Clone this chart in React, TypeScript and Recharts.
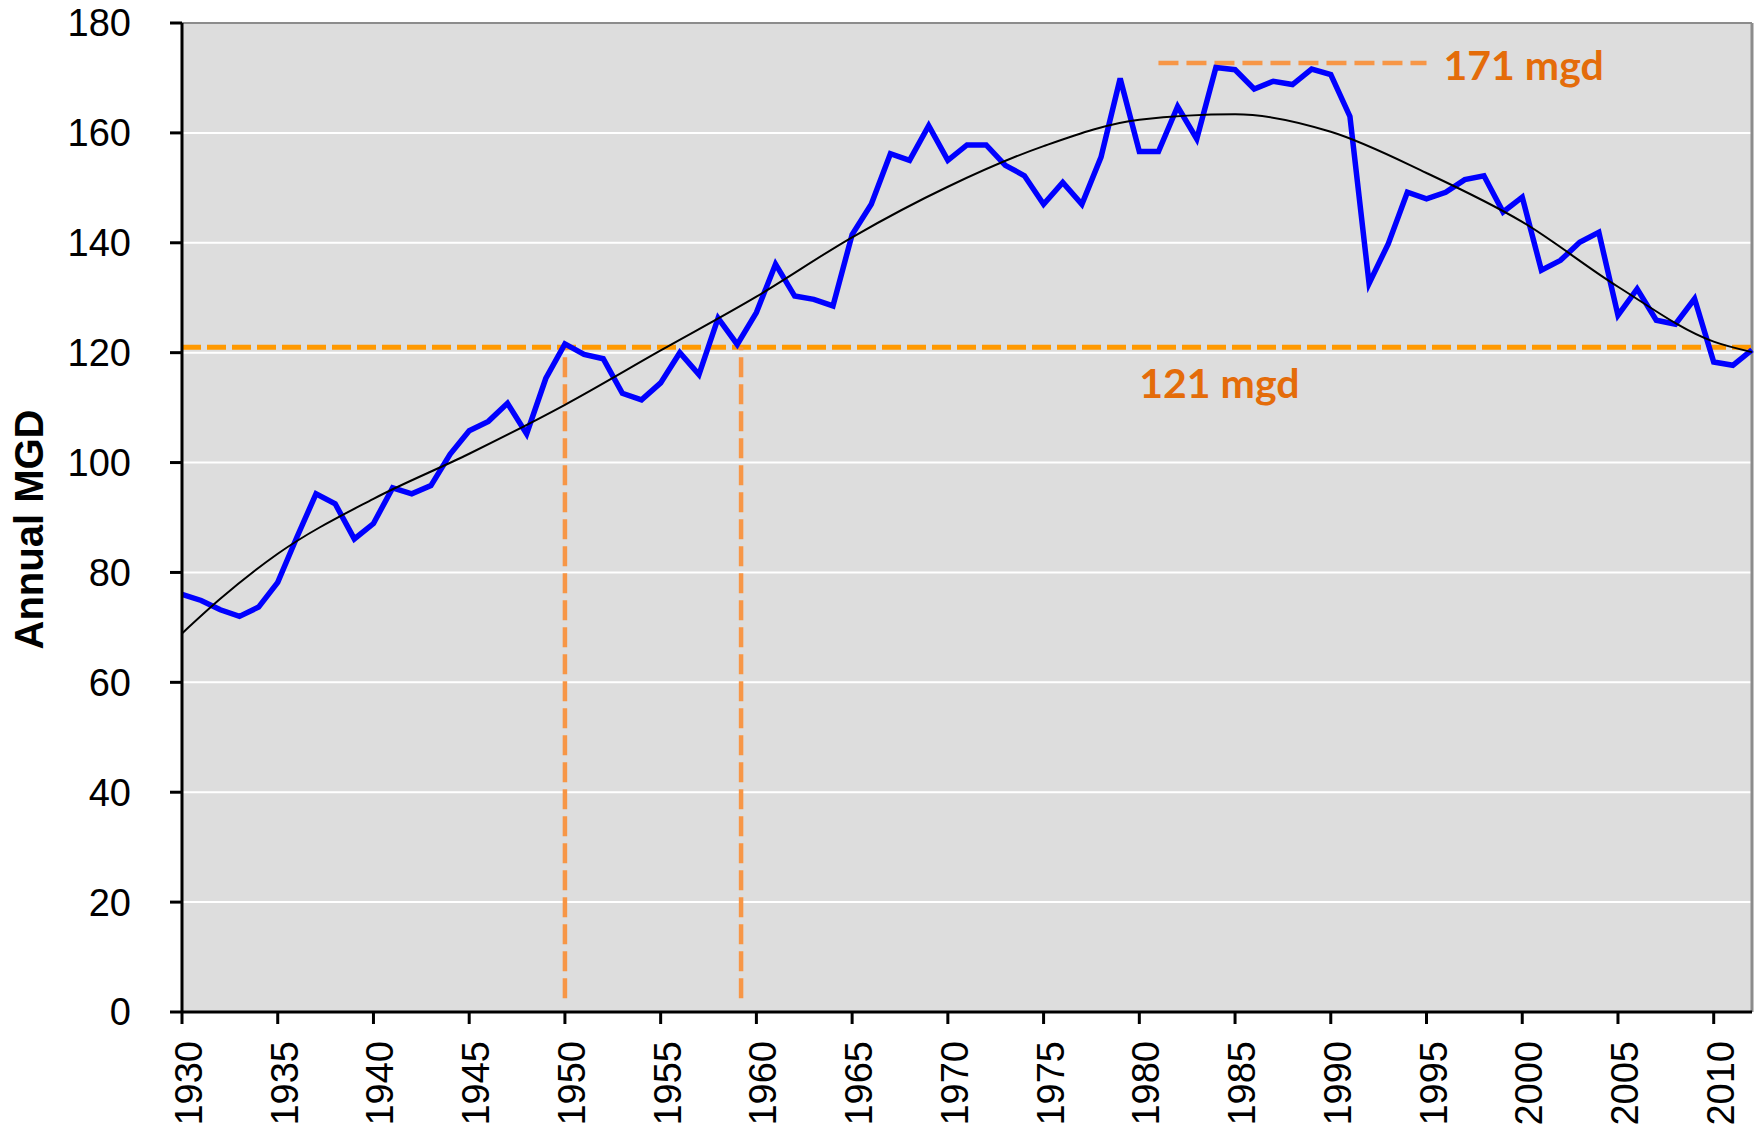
import {
  LineChart,
  Line,
  XAxis,
  YAxis,
  CartesianGrid,
  ReferenceLine,
  ReferenceDot,
} from "recharts";

// annual average demand, million gallons per day
const years = [
  1930, 1931, 1932, 1933, 1934, 1935, 1936, 1937, 1938, 1939,
  1940, 1941, 1942, 1943, 1944, 1945, 1946, 1947, 1948, 1949,
  1950, 1951, 1952, 1953, 1954, 1955, 1956, 1957, 1958, 1959,
  1960, 1961, 1962, 1963, 1964, 1965, 1966, 1967, 1968, 1969,
  1970, 1971, 1972, 1973, 1974, 1975, 1976, 1977, 1978, 1979,
  1980, 1981, 1982, 1983, 1984, 1985, 1986, 1987, 1988, 1989,
  1990, 1991, 1992, 1993, 1994, 1995, 1996, 1997, 1998, 1999,
  2000, 2001, 2002, 2003, 2004, 2005, 2006, 2007, 2008, 2009,
  2010, 2011, 2012,
];

const usage = [
  76.0, 74.9, 73.2, 72.0, 73.7, 78.2, 86.4, 94.3, 92.5, 86.1,
  88.9, 95.4, 94.3, 95.8, 101.5, 105.8, 107.5, 110.8, 105.2, 115.3,
  121.6, 119.7, 118.9, 112.6, 111.4, 114.5, 120.0, 116.0, 126.3, 121.5,
  127.3, 136.1, 130.3, 129.7, 128.5, 141.5, 147.0, 156.2, 155.0, 161.3,
  155.0, 157.8, 157.8, 154.1, 152.2, 147.0, 151.0, 147.0, 155.6, 169.9,
  156.6, 156.6, 164.8, 158.9, 171.9, 171.5, 168.0, 169.4, 168.8, 171.6,
  170.6, 163.0, 132.6, 139.8, 149.2, 148.0, 149.2, 151.5, 152.2, 145.6,
  148.3, 135.0, 136.8, 140.1, 141.9, 126.8, 131.6, 125.9, 125.2, 129.8,
  118.3, 117.7, 120.5,
];

// trend line values
const trendYears = [
  1930, 1932, 1935, 1940, 1945, 1950, 1955, 1960, 1965, 1970,
  1975, 1980, 1985, 1990, 1995, 2000, 2005, 2010, 2012,
];
const trendValues = [
  68.9, 75.2, 83.4, 93.4, 101.6, 110.5, 120.4, 130.2, 141.0, 150.2,
  157.6, 162.4, 163.4, 160.2, 152.7, 143.8, 132.0, 122.0, 120.1,
];

const yearTicks = [
  1930, 1935, 1940, 1945, 1950, 1955, 1960, 1965, 1970, 1975,
  1980, 1985, 1990, 1995, 2000, 2005, 2010,
];
const mgdTicks = [0, 20, 40, 60, 80, 100, 120, 140, 160, 180];

const baseLevel = 121;
const peakLevel = 172.7;
const crossYears = [1950, 1959.2];
const peakSpan = [1981, 1995];
const baseLabelYear = 1980;

const chartData = years.map((year, i) => {
  const t = trendYears.indexOf(year);
  return {
    year,
    usage: usage[i],
    trend: t >= 0 ? trendValues[t] : undefined,
  };
});

const FONT = "'Liberation Sans', Arial, sans-serif";
const NOTE_FONT = "Lato, Calibri, sans-serif";

function YearTick(props: any) {
  const { x, y, payload } = props;
  return (
    <text
      x={0}
      y={0}
      transform={`translate(${x + 20},${y}) rotate(-90)`}
      textAnchor="end"
      fontFamily={FONT}
      fontSize={38}
      fill="#000"
    >
      {payload.value}
    </text>
  );
}

function AxisTitle(props: any) {
  const vb = props.viewBox || { x: 0, y: 23, width: 182, height: 989 };
  return (
    <text
      x={0}
      y={0}
      transform={`translate(${vb.x + 43},${vb.y + vb.height / 2 + 12}) rotate(-90)`}
      textAnchor="middle"
      fontFamily={FONT}
      fontWeight="bold"
      fontSize={40}
      fill="#000"
    >
      Annual MGD
    </text>
  );
}

function note(text: string, dx: number, dy: number) {
  return (p: any) => (
    <text
      x={p.cx + dx}
      y={p.cy + dy}
      fontFamily={NOTE_FONT}
      fontWeight="bold"
      fontSize={41}
      fill="#E46C0A"
    >
      {text}
    </text>
  );
}

export default function App() {
  return (
    <div style={{ position: "absolute", left: 0, top: 0, background: "#fff" }}>
      <LineChart
        width={1764}
        height={1132}
        data={chartData}
        margin={{ top: 23, right: 12, bottom: 0, left: 0 }}
      >
        <CartesianGrid
          vertical={false}
          stroke="#fff"
          strokeWidth={2}
          fill="#DDDDDD"
          fillOpacity={1}
        />
        <XAxis
          dataKey="year"
          type="number"
          domain={[1930, 2012]}
          ticks={yearTicks}
          interval={0}
          height={120}
          tick={<YearTick />}
          tickSize={12}
          tickMargin={17}
          axisLine={{ stroke: "#000", strokeWidth: 3 }}
          tickLine={{ stroke: "#000", strokeWidth: 3 }}
        />
        <YAxis
          type="number"
          domain={[0, 180]}
          ticks={mgdTicks}
          interval={0}
          width={182}
          tickSize={12}
          tickMargin={39}
          tick={{ fill: "#000", fontSize: 38, fontFamily: FONT }}
          axisLine={{ stroke: "#000", strokeWidth: 3 }}
          tickLine={{ stroke: "#000", strokeWidth: 3 }}
          label={<AxisTitle />}
        />
        <ReferenceLine y={180} stroke="#8c8c8c" strokeWidth={2} />
        <ReferenceLine x={2012} stroke="#8c8c8c" strokeWidth={3} />
        <ReferenceLine
          y={baseLevel}
          stroke="#FF9900"
          strokeWidth={5}
          strokeDasharray="19 6"
        />
        {crossYears.map((yr) => (
          <ReferenceLine
            key={yr}
            segment={[
              { x: yr, y: 2.5 },
              { x: yr, y: baseLevel },
            ]}
            stroke="#F79646"
            strokeWidth={4.5}
            strokeDasharray="20 7"
          />
        ))}
        <ReferenceLine
          segment={[
            { x: peakSpan[0], y: peakLevel },
            { x: peakSpan[1], y: peakLevel },
          ]}
          stroke="#F79646"
          strokeWidth={4.5}
          strokeDasharray="20 8"
        />
        <Line
          type="linear"
          dataKey="usage"
          stroke="#0000FF"
          strokeWidth={5.5}
          dot={false}
          activeDot={false}
          isAnimationActive={false}
        />
        <Line
          type="monotone"
          dataKey="trend"
          stroke="#000"
          strokeWidth={2}
          dot={false}
          activeDot={false}
          connectNulls
          isAnimationActive={false}
        />
        <ReferenceDot
          x={peakSpan[1]}
          y={peakLevel}
          r={0}
          shape={note("171 mgd", 17, 17)}
        />
        <ReferenceDot
          x={baseLabelYear}
          y={baseLevel}
          r={0}
          shape={note("121 mgd", 0, 51)}
        />
      </LineChart>
    </div>
  );
}
